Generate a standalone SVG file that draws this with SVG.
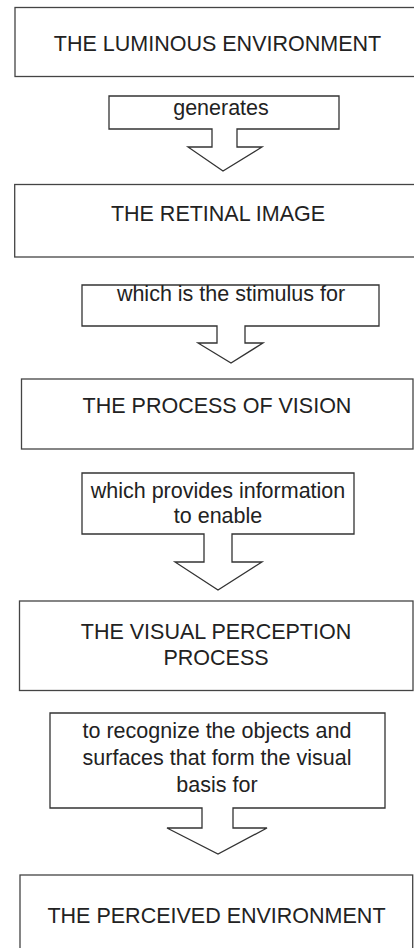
<svg xmlns="http://www.w3.org/2000/svg" width="414" height="948" viewBox="0 0 414 948">
<style>
.box{fill:#fff;stroke:#444;stroke-width:1.3}
.arr{fill:#fff;stroke:#333;stroke-width:1.3;stroke-linejoin:miter}
text{font-family:"Liberation Sans",Arial,sans-serif;font-size:21.5px;fill:#222;text-anchor:middle}
</style>
<rect width="414" height="948" fill="#fff"/>
<g id="node1"><rect class="box" x="15" y="7.5" width="410" height="69"/><text x="217.5" y="51">THE LUMINOUS ENVIRONMENT</text></g>
<g id="node2"><rect class="box" x="14.7" y="184.5" width="410" height="72.5"/><text x="218" y="221">THE RETINAL IMAGE</text></g>
<g id="node3"><rect class="box" x="21.5" y="379" width="391.5" height="70"/><text x="217" y="413">THE PROCESS OF VISION</text></g>
<g id="node4"><rect class="box" x="19.5" y="601" width="393.5" height="89.5"/><text x="216" y="639">THE VISUAL PERCEPTION</text><text x="216" y="665">PROCESS</text></g>
<g id="node5"><rect class="box" x="20" y="875" width="392.7" height="100"/><text x="216.5" y="923">THE PERCEIVED ENVIRONMENT</text></g>
<g id="connectors">
<g id="c1"><path class="arr" d="M109,96 H339 V129 H237 V147 H262 L223,171 L188,147 H212 V129 H109 Z"/><text x="221" y="115">generates</text></g>
<g id="c2"><path class="arr" d="M82,285 H379 V326 H245 V343 H263 L231,363 L198,343 H217 V326 H82 Z"/><text x="231" y="301">which is the stimulus for</text></g>
<g id="c3"><path class="arr" d="M82,473 H354 V534 H232 V562 H262 L218,590 L175,562 H204 V534 H82 Z"/><text x="218" y="498">which provides information</text><text x="218" y="523">to enable</text></g>
<g id="c4"><path class="arr" d="M50,713 H385 V808 H233 V828 H267 L218,854 L167,828 H202 V808 H50 Z"/><text x="217" y="738">to recognize the objects and</text><text x="217" y="765">surfaces that form the visual</text><text x="217" y="792">basis for</text></g>
</g>
</svg>
